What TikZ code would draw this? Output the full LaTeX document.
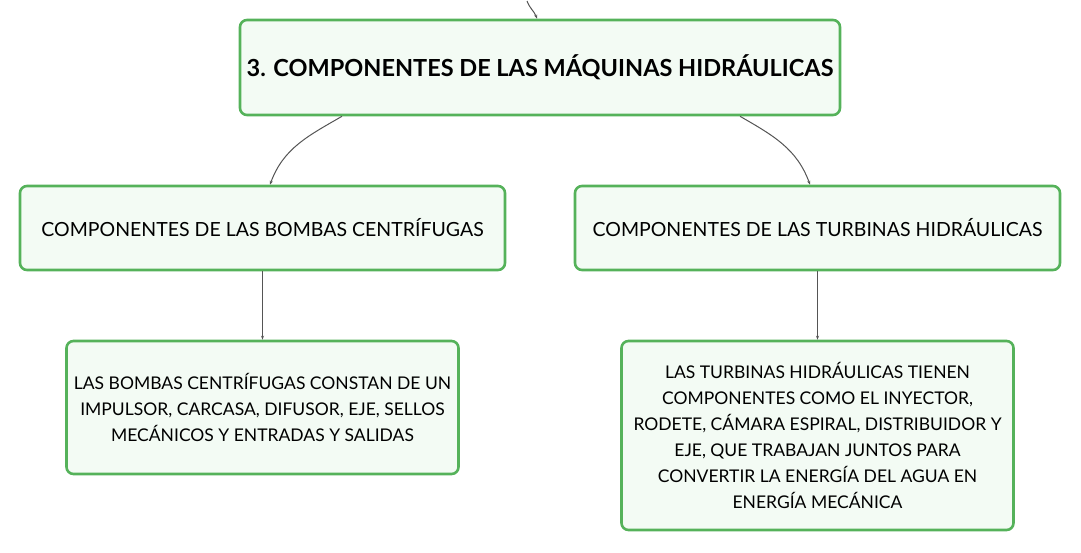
\documentclass[tikz,border=0pt]{standalone}
\usepackage{fontspec}
\setmainfont{Lato}
\usepackage{xcolor}
\usetikzlibrary{arrows.meta,calc}
\definecolor{boxline}{HTML}{55B25A}
\definecolor{boxfill}{HTML}{F3FBF4}
\definecolor{link}{HTML}{555555}
\tikzset{
  box/.style={draw=boxline, fill=boxfill, line width=2.6pt, rounded corners=7pt, align=center, inner sep=0pt},
  title/.style={box, minimum width=600pt, minimum height=95pt, font=\fontsize{23.5}{28}\selectfont\bfseries},
  topic/.style={box, minimum width=485pt, minimum height=84pt, font=\fontsize{19.5}{23}\selectfont},
  leaf/.style={box, minimum width=392pt, font=\fontsize{17.5}{26}\selectfont},
  conn/.style={-{Stealth[length=4pt,width=3pt]}, line width=1pt, draw=link}
}

\begin{document}
\begin{tikzpicture}[x=1pt,y=1pt]
  \useasboundingbox (0,0) rectangle (1081,-552);
  \node[title] (maq) at (540,-67.5) {3. COMPONENTES DE LAS MÁQUINAS HIDRÁULICAS};
  \node[topic] (bombas) at (262.5,-228) {COMPONENTES DE LAS BOMBAS CENTRÍFUGAS};
  \node[topic] (turb) at (817.5,-228) {COMPONENTES DE LAS TURBINAS HIDRÁULICAS};
  \node[leaf, minimum height=133pt] (bombasT) at (262.5,-407.5) {LAS BOMBAS CENTRÍFUGAS CONSTAN DE UN\\IMPULSOR, CARCASA, DIFUSOR, EJE, SELLOS\\MECÁNICOS Y ENTRADAS Y SALIDAS};
  \node[leaf, minimum height=189pt] (turbT) at (817.5,-435.5) {LAS TURBINAS HIDRÁULICAS TIENEN\\COMPONENTES COMO EL INYECTOR,\\RODETE, CÁMARA ESPIRAL, DISTRIBUIDOR Y\\EJE, QUE TRABAJAN JUNTOS PARA\\CONVERTIR LA ENERGÍA DEL AGUA EN\\ENERGÍA MECÁNICA};
  \coordinate (src) at (527,-1);
  % links
  \draw[conn] (src) to[out=-70,in=110] ([xshift=-3pt]maq.north);
  \draw[conn] ([xshift=-198pt]maq.south) to[out=210,in=70] ([xshift=7.5pt]bombas.north);
  \draw[conn] ([xshift=200pt]maq.south) to[out=-30,in=110] ([xshift=-7.5pt]turb.north);
  \draw[conn] (bombas.south) -- (bombasT.north);
  \draw[conn] (turb.south) -- (turbT.north);
\end{tikzpicture}
\end{document}
